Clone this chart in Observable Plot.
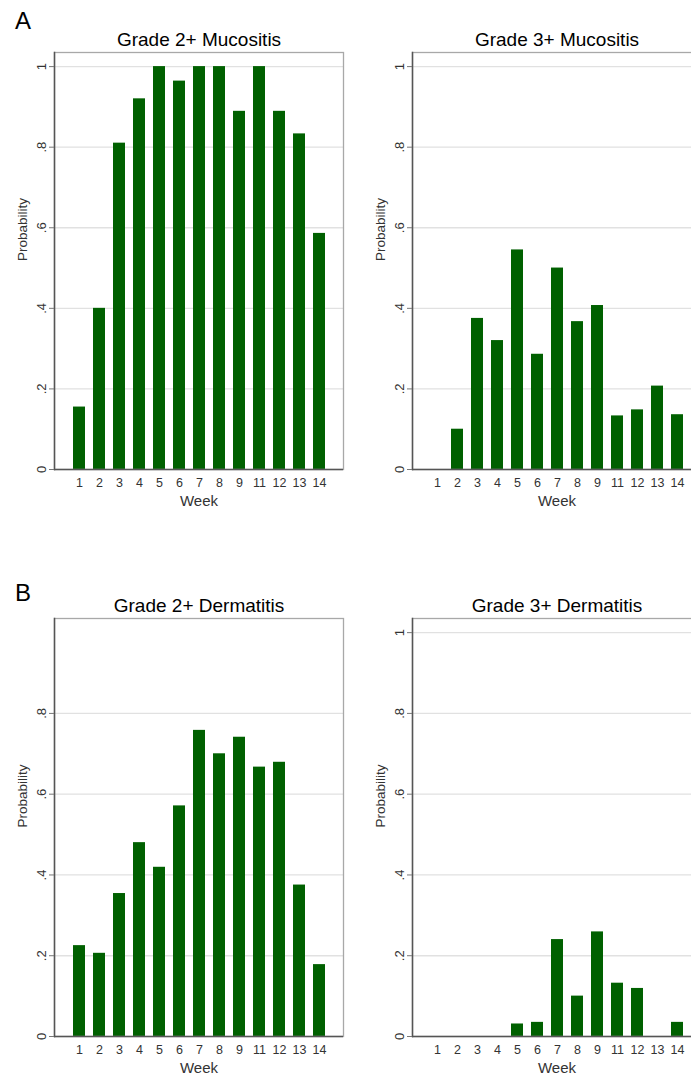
<!DOCTYPE html>
<html>
<head>
<meta charset="utf-8">
<script src="https://cdn.jsdelivr.net/npm/d3@7"></script>
<script src="https://cdn.jsdelivr.net/npm/@observablehq/plot@0.6"></script>
<style>
  html, body { margin: 0; padding: 0; background: #fff; }
  #wrap { position: relative; width: 691px; height: 1079px; overflow: hidden; background: #fff; }
  .panel { position: absolute; }
  .panel svg { max-width: none !important; }
  .letter { position: absolute; font-family: "Liberation Sans", Arial, sans-serif; font-size: 24px; line-height: 24px; color: #000; }
</style>
</head>
<body>
<div id="wrap"></div>
<script>
const weeks = ["1","2","3","4","5","6","7","8","9","11","12","13","14"];
const mucositis2 = [0.155, 0.40, 0.81, 0.92, 1.0, 0.964, 1.0, 1.0, 0.889, 1.0, 0.889, 0.833, 0.586];
const mucositis3 = [0, 0.10, 0.375, 0.32, 0.545, 0.286, 0.50, 0.367, 0.407, 0.133, 0.148, 0.207, 0.136];
const dermatitis2 = [0.225, 0.206, 0.354, 0.48, 0.419, 0.571, 0.758, 0.70, 0.741, 0.667, 0.679, 0.375, 0.178];
const dermatitis3 = [0, 0, 0, 0, 0.031, 0.035, 0.24, 0.10, 0.259, 0.132, 0.119, 0, 0.035];
const ticksFull = [0, 0.2, 0.4, 0.6, 0.8, 1];
const ticksNoOne = [0, 0.2, 0.4, 0.6, 0.8];
const titles = ["Grade 2+ Mucositis", "Grade 3+ Mucositis", "Grade 2+ Dermatitis", "Grade 3+ Dermatitis"];
const panelLetters = ["A", "B"];
const xLabel = "Week";
const yLabel = "Probability";

const font = "'Liberation Sans', Arial, Helvetica, sans-serif";
const barColor = "#006000";
const fmt = d => d === 0 ? "0" : d === 1 ? "1" : d3.format(".1f")(d).replace(/^0/, "");

function panel({values, title, ticks, width, height, marginLeft, marginRight, marginTop, marginBottom}) {
  const data = weeks.map((w, i) => ({week: w, p: values[i]}));
  return Plot.plot({
    width, height, marginLeft, marginRight, marginTop, marginBottom,
    style: {fontFamily: font, background: "white", overflow: "visible", maxWidth: "none"},
    x: {type: "band", domain: weeks, paddingInner: 0.42, paddingOuter: 0.83, align: 0.5},
    y: {domain: [0, 1.035]},
    marks: [
      Plot.gridY(ticks.filter(t => t > 0), {stroke: "#e1e1e1", strokeOpacity: 1, strokeWidth: 1.3}),
      Plot.barY(data, {x: "week", y: "p", fill: barColor}),
      Plot.frame({stroke: "#a8a8a8", strokeWidth: 1.3}),
      Plot.frame({anchor: "left", stroke: "#555", strokeWidth: 1.5}),
      Plot.ruleY([0], {stroke: "#555", strokeWidth: 1.5}),
      Plot.axisY(ticks, {tickFormat: fmt, tickRotate: -90, tickSize: 5, tickPadding: 4, stroke: "#777", fill: "#333", fontSize: 13, label: null}),
      Plot.axisX({tickSize: 0, tickPadding: 9, fontSize: 12.5, fill: "#333", label: null}),
      Plot.text([title], {frameAnchor: "top", dy: -7, lineAnchor: "bottom", fontSize: 19, fill: "#000"}),
      Plot.text([xLabel], {frameAnchor: "bottom", dy: 36, fontSize: 15, fill: "#333"}),
      Plot.text([yLabel], {frameAnchor: "left", dx: -32, rotate: -90, fontSize: 13.5, fill: "#333"})
    ]
  });
}

const wrap = document.getElementById("wrap");
function place(node, left, top, width, height) {
  const d = document.createElement("div");
  d.className = "panel";
  d.style.left = left + "px";
  d.style.top = top + "px";
  d.style.width = width + "px";
  d.style.height = height + "px";
  d.appendChild(node);
  wrap.appendChild(d);
}

const leftGeom = {width: 345, marginLeft: 54, marginRight: 2};
const rightGeom = {width: 358, marginLeft: 67, marginRight: 2};
const topGeom = {height: 520, marginTop: 52, marginBottom: 51};
const botGeom = {height: 513, marginTop: 52, marginBottom: 43};

place(panel({values: mucositis2, title: titles[0], ticks: ticksFull, ...leftGeom, ...topGeom}), 0, 0, 345, 520);
place(panel({values: mucositis3, title: titles[1], ticks: ticksFull, ...rightGeom, ...topGeom}), 345, 0, 358, 520);
place(panel({values: dermatitis2, title: titles[2], ticks: ticksNoOne, ...leftGeom, ...botGeom}), 0, 566, 345, 513);
place(panel({values: dermatitis3, title: titles[3], ticks: ticksFull, ...rightGeom, ...botGeom}), 345, 566, 358, 513);

[[panelLetters[0], 9], [panelLetters[1], 581]].forEach(([t, top]) => {
  const d = document.createElement("div");
  d.className = "letter";
  d.textContent = t;
  d.style.left = "15px";
  d.style.top = top + "px";
  wrap.appendChild(d);
});
</script>
</body>
</html>
